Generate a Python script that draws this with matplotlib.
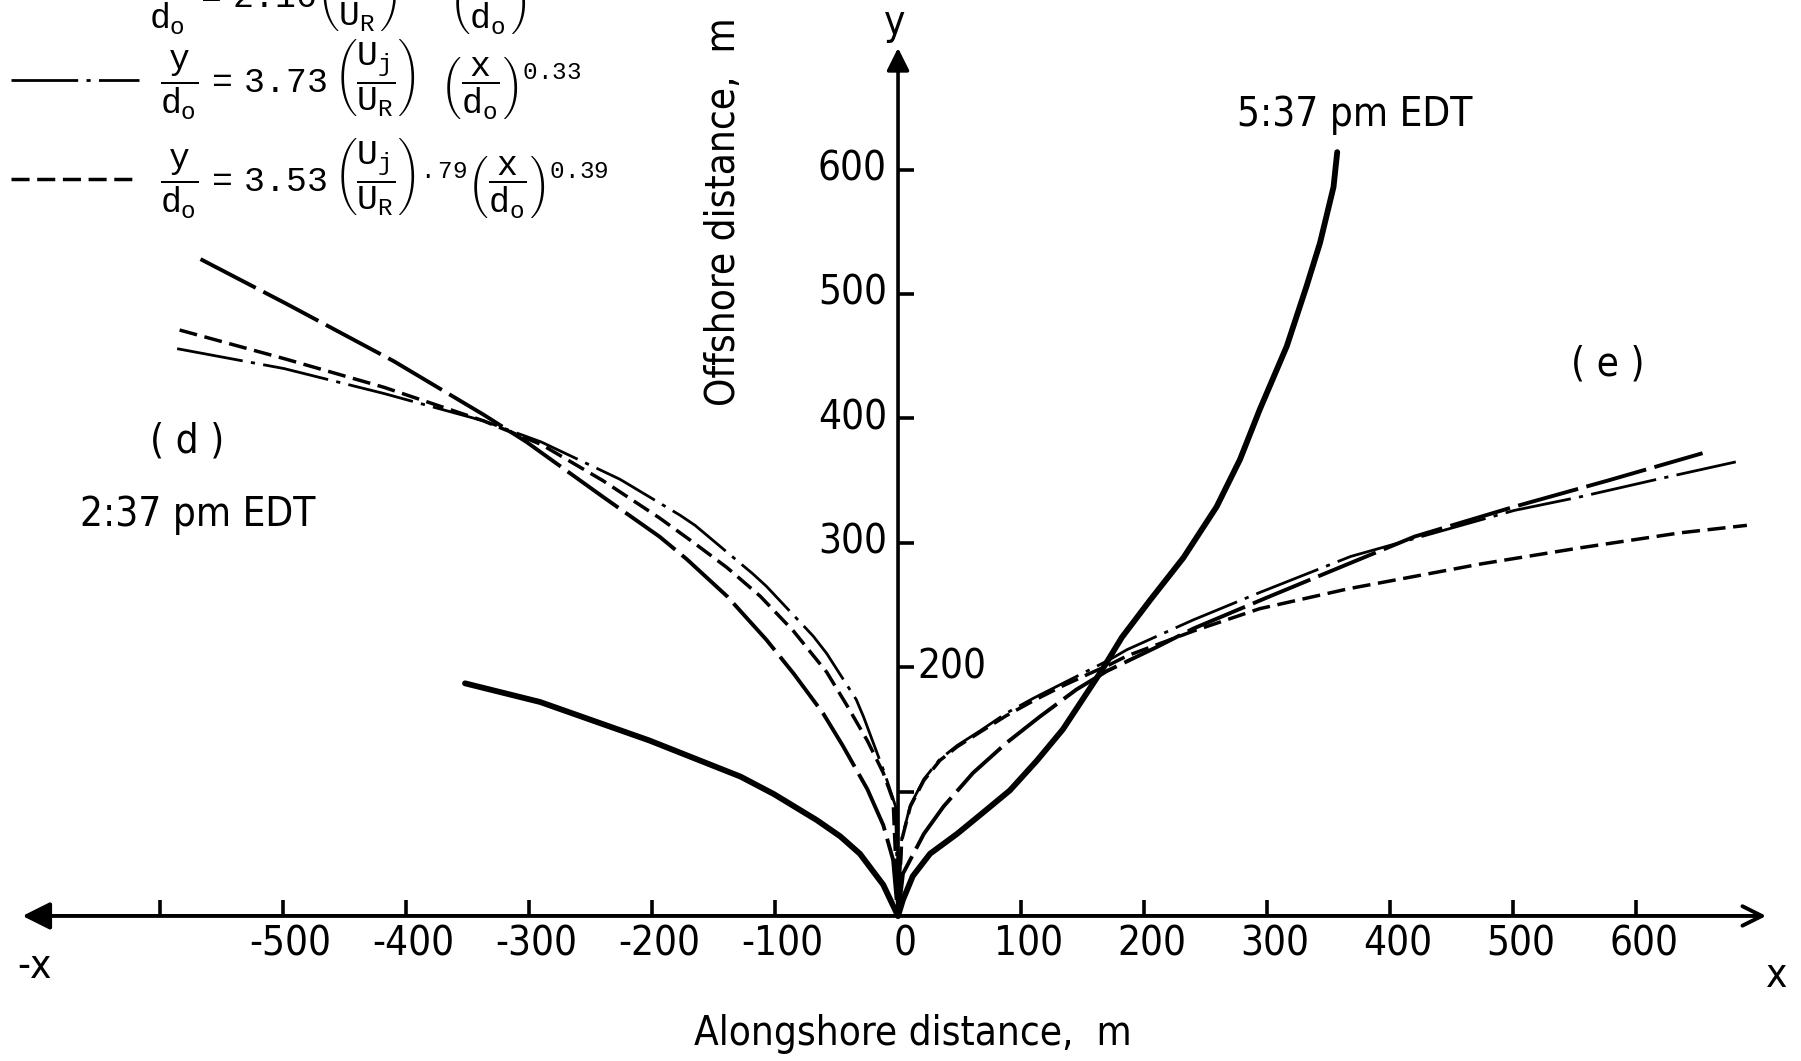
import matplotlib
matplotlib.use("Agg")
import matplotlib.pyplot as plt

plt.rcParams["font.family"] = ["Noto Sans ExtraCondensed", "Noto Sans Condensed",
                               "DejaVu Sans Condensed", "DejaVu Sans"]
plt.rcParams["font.stretch"] = "condensed"
plt.rcParams["mathtext.fontset"] = "custom"
plt.rcParams["mathtext.rm"] = "Liberation Mono"
plt.rcParams["mathtext.it"] = "Liberation Mono"

# observed plume edges, metres (alongshore x, offshore y)
obs_237_x = [-352, -291, -202, -128, -101, -66, -47, -31, -12, -1, 0]
obs_237_y = [187, 172, 141, 112, 98, 77, 64, 50, 25, 2, 0]
obs_537_x = [0, 4, 12, 26, 48, 69, 91, 113, 134, 150, 166, 182, 205, 232, 259, 278, 294, 316, 332, 343, 354, 357]
obs_537_y = [0, 13, 32, 50, 66, 83, 101, 125, 150, 174, 198, 224, 254, 288, 329, 367, 407, 458, 506, 541, 586, 614]

# eq. 1 (long dash)
eq1_left_x = [-567, -497, -410, -337, -302, -240, -194, -172, -139, -107, -85, -61, -45, -25, -12, -4, 0]
eq1_left_y = [528, 492, 446, 403, 381, 337, 305, 287, 257, 222, 195, 163, 137, 102, 73, 45, 0]
eq1_right_x = [0, 4, 21, 37, 61, 88, 115, 145, 170, 210, 240, 300, 366, 420, 501, 577, 654]
eq1_right_y = [0, 34, 66, 88, 115, 139, 160, 182, 197, 216, 231, 256, 283, 305, 329, 350, 372]

# eq. 2 (dash dot)
eq2_left_x = [-586, -499, -418, -337, -290, -226, -177, -165, -118, -107, -69, -58, -34, -28, -11, -2, 0]
eq2_left_y = [456, 440, 420, 398, 381, 351, 322, 314, 275, 265, 225, 211, 174, 160, 115, 88, 0]
eq2_right_x = [0, 3, 10, 21, 34, 48, 67, 88, 110, 134, 156, 172, 186, 240, 294, 368, 501, 555, 617, 681]
eq2_right_y = [0, 62, 89, 110, 126, 137, 149, 163, 175, 187, 198, 206, 214, 238, 260, 289, 326, 337, 351, 365]

# eq. 3 (short dash)
eq3_left_x = [-584, -499, -418, -337, -290, -240, -194, -166, -139, -112, -85, -58, -42, -25, -12, -4, 0]
eq3_left_y = [471, 448, 425, 398, 379, 350, 320, 300, 280, 257, 229, 196, 170, 141, 115, 93, 0]
eq3_right_x = [0, 3, 10, 21, 34, 48, 67, 88, 110, 134, 156, 172, 186, 240, 294, 366, 393, 474, 555, 636, 690]
eq3_right_y = [0, 61, 88, 109, 125, 136, 148, 161, 173, 185, 195, 202, 209, 229, 247, 263, 268, 283, 296, 308, 314]

x_ticks = [-600, -500, -400, -300, -200, -100, 0, 100, 200, 300, 400, 500, 600]
x_labels = ["", "-500", "-400", "-300", "-200", "-100", "0", "100", "200", "300", "400", "500", "600"]
y_ticks = [100, 200, 300, 400, 500, 600]
y_labels = ["", "200", "300", "400", "500", "600"]

eq_labels = [
    r"$\dfrac{y}{d_o}\ =\ 2.16\left(\dfrac{U_j}{U_R}\right)^{.5}\ \ \left(\dfrac{x}{d_o}\right)^{.5}$",
    r"$\dfrac{y}{d_o}\ =\ 3.73\ \left(\dfrac{U_j}{U_R}\right)\ \ \ \left(\dfrac{x}{d_o}\right)^{0.33}$",
    r"$\dfrac{y}{d_o}\ =\ 3.53\ \left(\dfrac{U_j}{U_R}\right)^{.79}\left(\dfrac{x}{d_o}\right)^{0.39}$",
]

fig = plt.figure(figsize=(18.01, 10.61), dpi=100)
ax = fig.add_axes([0, 0, 1, 1])
ax.set_xlim(-730, 734)
ax.set_ylim(-116.6, 736.3)
ax.axis("off")

fs = 29

# axes with arrows
ax.annotate("", xy=(-714, 0), xytext=(0, 0),
            arrowprops=dict(arrowstyle="-|>", lw=2.8, color="black", mutation_scale=42))
ax.annotate("", xy=(708, 0), xytext=(0, 0),
            arrowprops=dict(arrowstyle="->", lw=2.8, color="black", mutation_scale=35))
ax.annotate("", xy=(0, 700), xytext=(0, 0),
            arrowprops=dict(arrowstyle="-|>", lw=2.6, color="black", mutation_scale=34))

ax.vlines(x_ticks, 0, 13, color="black", lw=2.6)
ax.hlines(y_ticks, 0, 13, color="black", lw=2.6)
for x, lab in zip(x_ticks, x_labels):
    ax.text(x + 6, -23, lab, ha="center", va="center", fontsize=fs)
for y, lab in zip(y_ticks, y_labels):
    if y == 200:
        ax.text(16, y, lab, ha="left", va="center", fontsize=fs)
    else:
        ax.text(-9, y, lab, ha="right", va="center", fontsize=fs)

# observed
ax.plot(obs_237_x, obs_237_y, color="black", lw=4.2, solid_capstyle="round", solid_joinstyle="round")
ax.plot(obs_537_x, obs_537_y, color="black", lw=4.2, solid_capstyle="round", solid_joinstyle="round")

l1, = ax.plot(eq1_left_x, eq1_left_y, color="black", lw=2.8, dashes=(16, 2.2))
ax.plot(eq1_right_x, eq1_right_y, color="black", lw=2.8, dashes=(16, 2.2))
l2, = ax.plot(eq2_left_x, eq2_left_y, color="black", lw=2.0, dashes=(24, 3, 1.5, 3))
ax.plot(eq2_right_x, eq2_right_y, color="black", lw=2.0, dashes=(24, 3, 1.5, 3))
l3, = ax.plot(eq3_left_x, eq3_left_y, color="black", lw=2.5, dashes=(5.2, 2.2))
ax.plot(eq3_right_x, eq3_right_y, color="black", lw=2.5, dashes=(5.2, 2.2))

leg_kw = dict(bbox_transform=fig.transFigure, frameon=False, fontsize=25,
              handlelength=3.7, handletextpad=0.6, labelspacing=0.45, borderpad=0,
              borderaxespad=0)
leg1 = ax.legend([l1], eq_labels[:1], loc="center left", bbox_to_anchor=(0.0, 1.006), **leg_kw)
ax.add_artist(leg1)
ax.legend([l2, l3], eq_labels[1:], loc="center left", bbox_to_anchor=(0.006, 0.879), **leg_kw)

ax.text(-702, -41, "-x", ha="center", va="center", fontsize=fs)
ax.text(714, -48, "x", ha="center", va="center", fontsize=fs)
ax.text(-3, 718, "y", ha="center", va="center", fontsize=fs)
ax.text(-141.5, 566, "Offshore distance,  m", rotation=90, ha="center", va="center", fontsize=fs)
ax.text(12, -95, "Alongshore distance,  m", ha="center", va="center", fontsize=fs)
ax.text(-578, 381, "( d )", ha="center", va="center", fontsize=fs)
ax.text(-569, 322, "2:37 pm EDT", ha="center", va="center", fontsize=fs)
ax.text(371, 644, "5:37 pm EDT", ha="center", va="center", fontsize=fs)
ax.text(577, 443, "( e )", ha="center", va="center", fontsize=fs)

fig.savefig("out.png", dpi=100)
